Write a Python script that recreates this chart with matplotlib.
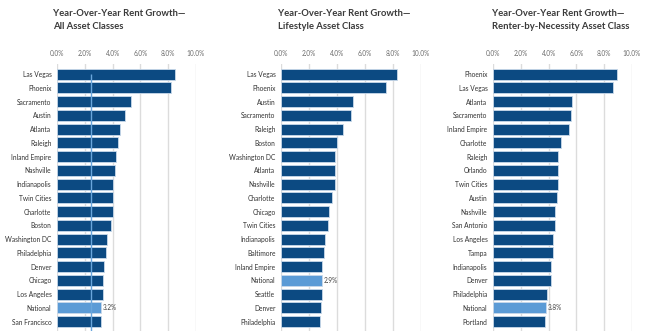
import matplotlib.pyplot as plt
import numpy as np

plt.rcParams['font.family'] = ['Lato', 'DejaVu Sans']

# = = = = = data = = = = =
all_cities = ['Las Vegas', 'Phoenix', 'Sacramento', 'Austin', 'Atlanta', 'Raleigh',
              'Inland Empire', 'Nashville', 'Indianapolis', 'Twin Cities', 'Charlotte',
              'Boston', 'Washington DC', 'Philadelphia', 'Denver', 'Chicago',
              'Los Angeles', 'National', 'San Francisco']
all_vals = [8.5, 8.2, 5.3, 4.9, 4.5, 4.4, 4.25, 4.2, 4.05, 4.05, 4.0,
            3.85, 3.6, 3.5, 3.4, 3.3, 3.3, 3.2, 3.2]

life_cities = ['Las Vegas', 'Phoenix', 'Austin', 'Sacramento', 'Raleigh', 'Boston',
               'Washington DC', 'Atlanta', 'Nashville', 'Charlotte', 'Chicago',
               'Twin Cities', 'Indianapolis', 'Baltimore', 'Inland Empire', 'National',
               'Seattle', 'Denver', 'Philadelphia']
life_vals = [8.3, 7.5, 5.15, 5.0, 4.4, 4.0, 3.85, 3.85, 3.85, 3.65, 3.45,
             3.35, 3.15, 3.1, 2.9, 2.9, 2.9, 2.85, 2.8]

rbn_cities = ['Phoenix', 'Las Vegas', 'Atlanta', 'Sacramento', 'Inland Empire',
              'Charlotte', 'Raleigh', 'Orlando', 'Twin Cities', 'Austin', 'Nashville',
              'San Antonio', 'Los Angeles', 'Tampa', 'Indianapolis', 'Denver',
              'Philadelphia', 'National', 'Portland']
rbn_vals = [8.95, 8.6, 5.7, 5.6, 5.5, 4.9, 4.7, 4.7, 4.7, 4.6, 4.45,
            4.45, 4.3, 4.3, 4.2, 4.15, 3.9, 3.8, 3.75]

titles = ['Year-Over-Year Rent Growth\u2014\nAll Asset Classes',
          'Year-Over-Year Rent Growth\u2014\nLifestyle Asset Class',
          'Year-Over-Year Rent Growth\u2014\nRenter-by-Necessity Asset Class']
national_labels = ['3.2%', '2.9%', '3.8%']
xticks = [0, 2, 4, 6, 8, 10]

# = = = = = figure = = = = =
W, H = 652, 331
fig = plt.figure(figsize=(W / 100, H / 100), dpi=100)
fig.patch.set_facecolor('white')

dark = '#0c4a82'
light = '#5b9bd6'

# axes left/right edges in px, title left in px
panels = [(57, 196, 53), (281, 421, 278), (493, 632, 492)]
ax_top, ax_bot = 64, H

data = [(all_cities, all_vals), (life_cities, life_vals), (rbn_cities, rbn_vals)]

for i, ((cities, vals), (x0, x1, tx)) in enumerate(zip(data, panels)):
    ax = fig.add_axes([x0 / W, 1 - ax_bot / H, (x1 - x0) / W, (ax_bot - ax_top) / H])
    y = np.arange(len(cities))
    colors = [light if c == 'National' else dark for c in cities]
    ax.barh(y, vals, height=0.8, color=colors, edgecolor='#c9d9ea', linewidth=0.6, zorder=3)
    ax.set_xlim(0, 10)
    ax.set_ylim(18.68, -0.73)
    ax.set_xticks(xticks)
    ax.set_xticklabels(['%.1f%%' % t for t in xticks])
    ax.xaxis.tick_top()
    ax.tick_params(axis='x', length=0, pad=5, labelsize=4.7, labelcolor='#6b6b6b')
    ax.set_yticks(y)
    ax.set_yticklabels(cities)
    ax.tick_params(axis='y', length=0, pad=4, labelsize=4.8, labelcolor='#333333')
    ax.grid(axis='x', color='#dcdcdc', linewidth=1.0, zorder=0)
    for s in ax.spines.values():
        s.set_visible(False)
    n = cities.index('National')
    ax.text(vals[n] + 0.12, n, national_labels[i], va='center', ha='left',
            fontsize=4.7, color='#444444')
    if i == 0:
        ax.vlines(2.45, 0, 18.68, color='#6aa6dc', linewidth=1.0, zorder=4)
    fig.text(tx / W, 1 - 9 / H, titles[i], ha='left', va='top', fontsize=6.8,
             fontweight='bold', color='#3a3a3a', linespacing=1.55)

fig.savefig('out.png', dpi=100)
